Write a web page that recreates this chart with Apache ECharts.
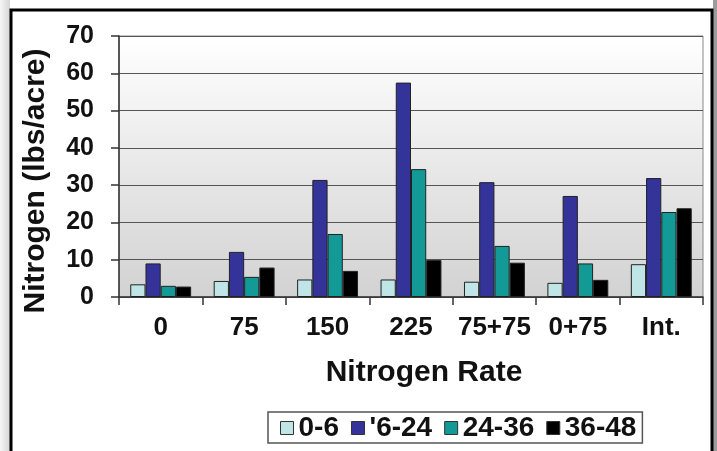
<!DOCTYPE html>
<html>
<head>
<meta charset="utf-8">
<script src="https://cdn.jsdelivr.net/npm/echarts@6/dist/echarts.min.js"></script>
<style>
  html, body { margin: 0; padding: 0; background: #fff; }
  #chart { width: 717px; height: 451px; }
</style>
</head>
<body>
<div id="chart"></div>
<script>
// Nitrogen by depth and rate
var categories = ['0', '75', '150', '225', '75+75', '0+75', 'Int.'];
var depth0_6   = [3.4, 4.3, 4.7, 4.7, 4.1, 3.8, 8.8];
var depth6_24  = [9.0, 12.1, 31.4, 57.5, 30.8, 27.1, 31.9];
var depth24_36 = [3.0, 5.4, 16.9, 34.3, 13.7, 9.0, 22.8];
var depth36_48 = [2.8, 7.9, 7.0, 9.9, 9.2, 4.6, 23.8];
var yTicks = [0, 10, 20, 30, 40, 50, 60, 70];

var font = '"Liberation Sans", Arial, sans-serif';
var chart = echarts.init(document.getElementById('chart'));

function bar(name, data, color) {
  return {
    name: name,
    type: 'bar',
    data: data,
    barGap: '0%',
    barCategoryGap: '27%',
    itemStyle: { color: color, borderColor: '#222', borderWidth: 1 }
  };
}

var option = {
  backgroundColor: '#fff',
  animation: false,
  graphic: [
    { type: 'rect', shape: { x: 0, y: 0, width: 10, height: 451 }, z: -10,
      style: { fill: new echarts.graphic.LinearGradient(0, 0, 1, 0, [
        { offset: 0, color: '#f6f6f6' }, { offset: 1, color: '#d6d6d6' }]) } },
    { type: 'rect', shape: { x: 713, y: 0, width: 4, height: 451 }, z: -10,
      style: { fill: '#9c9c9c' } },
    { type: 'rect', shape: { x: 11, y: 10, width: 701, height: 460 }, z: -5,
      style: { fill: 'none', stroke: '#000', lineWidth: 3 } },
    { type: 'text', x: 36, y: 181, rotation: Math.PI / 2,
      style: { text: 'Nitrogen (lbs/acre)', font: 'bold 30px ' + font, fill: '#111',
        align: 'center', verticalAlign: 'middle' } },
    { type: 'text', x: 424, y: 373,
      style: { text: 'Nitrogen Rate', font: 'bold 30px ' + font, fill: '#111',
        align: 'center', verticalAlign: 'middle' } }
  ],
  grid: {
    left: 119, right: 14, top: 36, bottom: 154,
    show: true,
    borderColor: '#888', borderWidth: 1,
    backgroundColor: new echarts.graphic.LinearGradient(0, 0, 0, 1, [
      { offset: 0, color: '#ffffff' }, { offset: 1, color: '#d2d2d2' }])
  },
  legend: {
    left: 268, top: 412,
    padding: [2, 6, 1, 12],
    itemGap: 12,
    icon: 'rect',
    itemWidth: 13, itemHeight: 13,
    itemStyle: { borderColor: '#333', borderWidth: 1 },
    borderColor: '#555', borderWidth: 1.5,
    backgroundColor: '#fff',
    textStyle: { fontFamily: font, fontWeight: 'bold', fontSize: 28, color: '#111' },
    data: ['0-6', "'6-24", '24-36', '36-48']
  },
  xAxis: {
    type: 'category',
    data: categories,
    axisLine: { lineStyle: { color: '#333', width: 1.5 } },
    axisTick: { show: true, length: 8, lineStyle: { color: '#333', width: 1.5 } },
    axisLabel: { interval: 0, fontFamily: font, fontWeight: 'bold', fontSize: 26, color: '#111', margin: 18 }
  },
  yAxis: {
    type: 'value',
    min: yTicks[0], max: yTicks[yTicks.length - 1], interval: 10,
    axisLine: { show: true, lineStyle: { color: '#333', width: 1.5 } },
    axisTick: { show: true, length: 8, lineStyle: { color: '#333', width: 1.5 } },
    splitLine: { lineStyle: { color: '#555', width: 1.2 } },
    axisLabel: { fontFamily: font, fontWeight: 'bold', fontSize: 25, color: '#111', margin: 25 }
  },
  series: [
    bar('0-6', depth0_6, '#bfe5e7'),
    bar("'6-24", depth6_24, '#33339a'),
    bar('24-36', depth24_36, '#139a96'),
    bar('36-48', depth36_48, '#000000')
  ]
};
chart.setOption(option);
</script>
</body>
</html>
